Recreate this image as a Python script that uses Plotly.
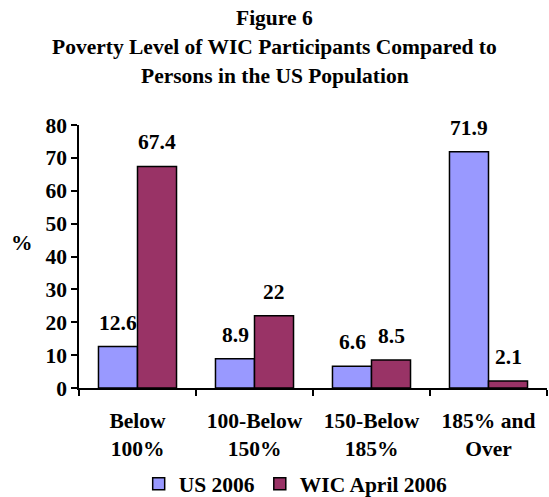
import plotly.graph_objects as go

categories = ["Below<br>100%", "100-Below<br>150%", "150-Below<br>185%", "185% and<br>Over"]
us_2006 = [12.6, 8.9, 6.6, 71.9]
wic_2006 = [67.4, 22, 8.5, 2.1]
series_names = ["US 2006", "WIC April 2006"]
y_ticks = [0, 10, 20, 30, 40, 50, 60, 70, 80]
title_lines = ["Figure 6", "Poverty Level of WIC Participants Compared to", "Persons in the US Population"]

FONT = "Liberation Serif"
colors = ["#9999FF", "#993366"]
def f(size=21.5):
    return dict(family=FONT, size=size, color="black", weight="bold")

fig = go.Figure()
for name, vals, col in zip(series_names, [us_2006, wic_2006], colors):
    fig.add_trace(go.Bar(
        x=categories, y=vals, name=name,
        marker=dict(color=col, line=dict(color="black", width=1.5)),
    ))

annotations = []
for vals, shift in [(us_2006, -19.5), (wic_2006, 19.5)]:
    for c, v in zip(categories, vals):
        annotations.append(dict(
            x=c, y=v, text=f"{v:g}", showarrow=False, xref="x", yref="y",
            xshift=shift, yshift=24, font=f(),
        ))
annotations.append(dict(
    x=0, xref="paper", xshift=-57, xanchor="center", y=44, yref="y", text="%",
    showarrow=False, font=f(),
))
# title lines (centered on page); plot top is at 125 px
for i, line in enumerate(title_lines):
    annotations.append(dict(
        x=0.5, xref="paper", xshift=(274.5 - (79 + 0.5 * 468)),
        y=1, yref="paper", yshift=125 - (18 + 29 * i),
        yanchor="middle", text=line, showarrow=False, font=f(),
    ))

fig.update_layout(
    width=549, height=497,
    margin=dict(l=79, r=2, t=125, b=109, autoexpand=False),
    paper_bgcolor="white", plot_bgcolor="white",
    barmode="group", bargap=0.333, bargroupgap=0,
    font=f(),
    showlegend=True,
    legend=dict(
        orientation="h", x=0.463, xanchor="center", y=-0.364, yanchor="middle",
        font=f(), itemwidth=30, tracegroupgap=0,
    ),
    annotations=annotations,
)
fig.update_xaxes(
    showline=True, linecolor="black", linewidth=1.5,
    ticks="outside", tickson="boundaries", ticklen=6, tickcolor="black", tickwidth=1.5,
    ticklabelstandoff=12,
    showgrid=False, tickfont=f(),
)
fig.update_yaxes(
    range=[0, 80], tickvals=y_ticks, showline=True, linecolor="black", linewidth=1.5,
    ticks="outside", ticklen=6, tickcolor="black", tickwidth=1.5,
    showgrid=False, zeroline=False, tickfont=f(),
)

fig.write_html("out.html")
